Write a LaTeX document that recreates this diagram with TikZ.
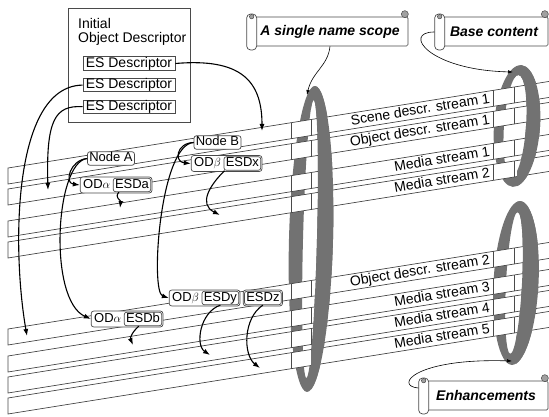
\documentclass[tikz,border=0pt]{standalone}
\usepackage{fontspec}
\setmainfont{Liberation Sans}
\usepackage{tikz}
\usetikzlibrary{arrows.meta,positioning,fit,backgrounds,calc}
\definecolor{ringgray}{HTML}{727272}
\definecolor{edgegray}{HTML}{4A4A4A}
\definecolor{curlgray}{HTML}{A0A0A0}
\tikzset{
  band/.style={draw=edgegray,fill=white,line width=0.7pt},
  divider/.style={draw=edgegray,line width=0.5pt},
  ring/.style={fill=ringgray,even odd rule},
  lbl/.style={font=\fontsize{14}{14}\selectfont,anchor=east,rotate=9.1,inner sep=0pt,text height=9pt,text depth=2pt},
  esbox/.style={draw=edgegray,fill=white,line width=0.8pt,font=\fontsize{14}{14}\selectfont,inner xsep=1.5pt,inner ysep=0.5pt,text height=9.8pt,text depth=2.5pt,minimum width=92pt},
  desc/.style={draw=edgegray,fill=white,rounded corners=2.5pt,line width=0.7pt,font=\fontsize{13}{13}\selectfont,inner xsep=1.8pt,inner ysep=0.8pt,text height=9.5pt,text depth=2.5pt},
  odpart/.style={desc,draw=none},
  odframe/.style={draw=edgegray,fill=white,rounded corners=2.5pt,line width=0.7pt,inner sep=0.8pt},
  ar/.style={-{Latex[length=7pt,width=5pt]},draw=black,line width=1.1pt},
  callar/.style={-{Latex[length=5pt,width=3.5pt]},draw=black,line width=0.6pt},
  scrollbody/.style={draw=edgegray,fill=white,rounded corners=1.5pt,line width=0.7pt,font=\fontsize{14}{14}\selectfont\bfseries\itshape,inner sep=0pt},
  scrollroll/.style={draw=edgegray,fill=white,rounded corners=4pt,line width=0.7pt,minimum width=10pt,minimum height=36pt,inner sep=0pt},
  curl/.style={draw=edgegray,fill=curlgray,line width=0.5pt},
}

\begin{document}
\begin{tikzpicture}[x=1pt,y=-1pt]
  \useasboundingbox (0,0) rectangle (549,417);
  \begin{scope}[on background layer]
    \fill[white] (0,0) rectangle (549,417);
    % rings: back side first
    \foreach \cx/\cy/\rx/\ry/\ix/\irx/\iry/\tilt in {311/239/22/153/310/7/139/-1.5, 517/126/23/61/515/11/51/-4, 516/283/22.5/82/514/8/71/-3}
      \fill[ring,rotate around={\tilt:(\cx,\cy)}] (\cx,\cy) ellipse [x radius=\rx,y radius=\ry] (\ix,\cy) ellipse [x radius=\irx,y radius=\iry];
    % streams
    \foreach \yl in {168,189,221,242,329,356,377,398}
      \path[band] (549,\yl-86.56) -- (8,\yl) -- (8,\yl+16) -- (549,\yl-70.56);
    \foreach \yl in {168,189,221,242,329,356,377,398}
      \foreach \xd in {291,311,493,514}
        \draw[divider] (\xd,{\yl-0.16*(\xd-8)}) -- ++(0,16);
    % rings: front side
    \foreach \cx/\cy/\rx/\ry/\ix/\irx/\iry/\tilt in {311/239/22/153/310/7/139/-1.5, 517/126/23/61/515/11/51/-4, 516/283/22.5/82/514/8/71/-3}{
      \begin{scope}
        \clip (\cx,0) rectangle (549,417);
        \fill[ring,rotate around={\tilt:(\cx,\cy)}] (\cx,\cy) ellipse [x radius=\rx,y radius=\ry] (\ix,\cy) ellipse [x radius=\irx,y radius=\iry];
      \end{scope}}
  \end{scope}

  \foreach \yl/\nm/\txt in {168/sd1/Scene descr. stream 1, 189/od1/Object descr. stream 1, 221/ms1/Media stream 1, 242/ms2/Media stream 2, 329/od2/Object descr. stream 2, 356/ms3/Media stream 3, 377/ms4/Media stream 4, 398/ms5/Media stream 5}
    \node[lbl] (\nm) at (490,\yl-68.6) {\txt};

  \coordinate (sd1in) at (262,131);
  \coordinate (od1in) at (48,190);
  \coordinate (od2in) at (27,336);
  \coordinate (ms1in) at (120,208);
  \coordinate (ms2in) at (220,215);
  \coordinate (ms3in) at (133,345);
  \coordinate (ms4in) at (210,355);
  \coordinate (ms5in) at (260,368);
  \coordinate (r1top) at (307,95);
  \coordinate (r2top) at (513,72);
  \coordinate (r3bot) at (512,361);

  % initial object descriptor
  \node[draw=edgegray,line width=0.8pt,minimum width=122pt,minimum height=114pt,anchor=north west,inner sep=0pt] (iod) at (68,8) {};
  \node[anchor=north west,align=left,font=\fontsize{14}{14}\selectfont,inner sep=0pt] (iodtitle) at ($(iod.north west)+(10,10)$) {Initial\\Object Descriptor};
  \node[esbox] (esd1) at (129,63.5) {ES Descriptor};
  \node[esbox,below=7.5pt of esd1] (esd2) {ES Descriptor};
  \node[esbox,below=7.5pt of esd2] (esd3) {ES Descriptor};

  % descriptors carried in the streams
  \node[desc] (nodeA) at (111,158.5) {Node A};
  \node[desc] (nodeB) at (217.5,142.5) {Node B};
  \node[odpart,anchor=west] (oda1) at (81,185) {OD$\alpha$};
  \node[desc,right=0.5pt of oda1] (esda) {ESDa};
  \node[odpart,anchor=west] (odb1) at (192,163.5) {OD$\beta$};
  \node[desc,right=0.5pt of odb1] (esdx) {ESDx};
  \node[odpart,anchor=west] (oda2) at (92,319) {OD$\alpha$};
  \node[desc,right=0.5pt of oda2] (esdb) {ESDb};
  \node[odpart,anchor=west] (odb2) at (170,298) {OD$\beta$};
  \node[desc,right=0.5pt of odb2] (esdy) {ESDy};
  \node[desc,right=5pt of esdy] (esdz) {ESDz};
  \begin{scope}[on background layer]
    \node[odframe,fit=(oda1)(esda)] (grpa1) {};
    \node[odframe,fit=(odb1)(esdx)] (grpb1) {};
    \node[odframe,fit=(oda2)(esdb)] (grpa2) {};
    \node[odframe,fit=(odb2)(esdy)] (grpb2) {};
    \node[odframe,fit=(esdz)] (grpz) {};
  \end{scope}

  \draw[ar] (esd1.east) .. controls (240,58) and (262,80) .. (sd1in);
  \draw[ar] (esd2.west) .. controls (12,86) and (12,250) .. (od2in);
  \draw[ar] (esd3.west) .. controls (55,105) and (46,120) .. (od1in);
  \draw[ar] (nodeA.west) .. controls (70,160) and (64,183) .. (grpa1.west);
  \draw[ar] (nodeA.west) .. controls (55,162) and (48,300) .. (grpa2.west);
  \draw[ar] (nodeB.west) .. controls (176,143) and (174,162) .. (grpb1.west);
  \draw[ar] (nodeB.west) .. controls (160,144) and (150,292) .. (grpb2.west);
  \draw[ar] ($(esda.south west)+(6,0)$) .. controls (114,198) and (121,200) .. (ms1in);
  \draw[ar] ($(esdx.south west)+(1,0)$) .. controls (210,185) and (198,204) .. (ms2in);
  \draw[ar] ($(esdb.south west)+(15,0)$) .. controls (132,332) and (130,338) .. (ms3in);
  \draw[ar] (esdy.south) .. controls (200,312) and (195,345) .. (ms4in);
  \draw[ar] (esdz.south) .. controls (243,318) and (243,355) .. (ms5in);

  % callouts
  \node[scrollbody,minimum width=156pt,minimum height=29pt] (namescope) at (330,31.5) {A single name scope};
  \node[scrollroll] (namescoperoll) at ($(namescope.west)+(0,0.5)$) {};
  \node[scrollbody,minimum width=108pt,minimum height=29pt] (basecontent) at (494,31.5) {Base content};
  \node[scrollroll] (baseroll) at ($(basecontent.west)+(0,0.5)$) {};
  \node[scrollbody,minimum width=124pt,minimum height=29pt] (enhance) at (486,395.5) {Enhancements};
  \node[scrollroll] (enhroll) at ($(enhance.west)+(0,0.5)$) {};
  \foreach \nm in {namescope,basecontent,enhance}
    \filldraw[curl] ($(\nm.north east)+(-3.5,-2.5)$) circle [radius=3.5];
  \foreach \nm in {namescoperoll,baseroll,enhroll}
    \filldraw[curl] ($(\nm.north)+(0,3)$) circle [radius=2.2];

  \draw[callar] (namescope.south) .. controls (328,66) and (312,72) .. (r1top);
  \draw[callar] (baseroll.west) .. controls (402,32) and (428,70) .. (r2top);
  \draw[callar] ($(enhroll.west)+(0,-8)$) .. controls (394,386) and (414,358) .. (r3bot);
\end{tikzpicture}
\end{document}
